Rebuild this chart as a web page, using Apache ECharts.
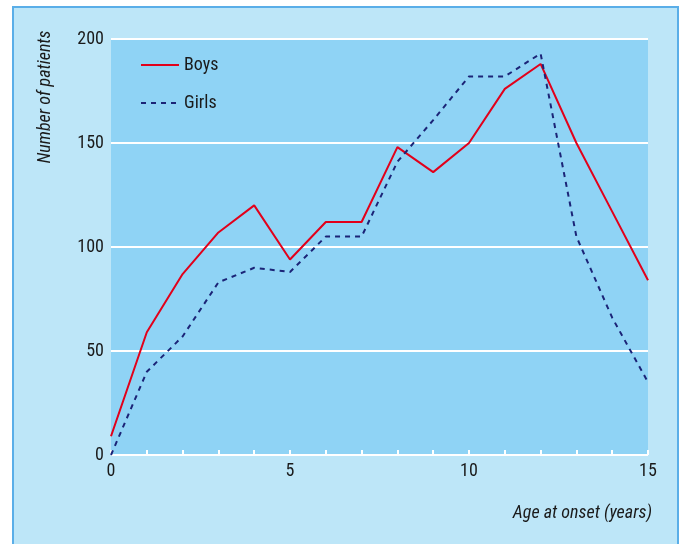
<!DOCTYPE html>
<html>
<head>
<meta charset="utf-8">
<script src="https://cdn.jsdelivr.net/npm/echarts@6/dist/echarts.min.js"></script>
<style>
  html, body { margin: 0; padding: 0; background: #fff; }
  #chart { width: 681px; height: 544px; }
</style>
</head>
<body>
<div id="chart"></div>
<script>
var ages = [0, 1, 2, 3, 4, 5, 6, 7, 8, 9, 10, 11, 12, 13, 14, 15];
var boys = [9, 59, 87, 107, 120, 94, 112, 112, 148, 136, 150, 176, 188, 150, 117, 84];
var girls = [0, 40, 57, 83, 90, 88, 105, 105, 141, 161, 182, 182, 193, 105, 66, 35];
var xTicks = [0, 5, 10, 15];
var yTicks = [0, 50, 100, 150, 200];

var font = '"Liberation Sans Narrow", "Roboto Condensed", Roboto, sans-serif';
var colors = ['#e2001a', '#1b2477'];

var myChart = echarts.init(document.getElementById('chart'));

function pairs(vals) {
    return ages.map(function (a, i) { return [a, vals[i]]; });
}

var option = {
    backgroundColor: '#fff',
    animation: false,
    color: colors,
    graphic: [
        {
            type: 'rect', z: -10,
            shape: { x: 13, y: 7, width: 665, height: 545 },
            style: { fill: '#bde6f8', stroke: '#5aaee8', lineWidth: 2 }
        },
        {
            type: 'text', x: 45, y: 97, rotation: Math.PI / 2,
            style: {
                text: 'Number of patients', fill: '#1a1a1a',
                font: 'italic 18px ' + font, align: 'center', verticalAlign: 'middle'
            }
        },
        {
            type: 'text', x: 652, y: 513,
            style: {
                text: 'Age at onset (years)', fill: '#1a1a1a',
                font: 'italic 18px ' + font, align: 'right', verticalAlign: 'middle'
            }
        }
    ],
    legend: {
        orient: 'vertical',
        left: 135,
        top: 51,
        itemWidth: 38,
        itemHeight: 14,
        itemGap: 20,
        itemStyle: { opacity: 0 },
        textStyle: { fontSize: 18, color: '#1a1a1a', fontFamily: font },
        data: ['Boys', 'Girls']
    },
    grid: {
        left: 111, right: 33, top: 39, bottom: 89,
        show: true, backgroundColor: '#8fd3f5', borderWidth: 0
    },
    xAxis: {
        type: 'value', min: 0, max: 15, interval: 1,
        // line must be on for ticks to draw; keep it transparent
        axisLine: { show: true, lineStyle: { color: 'rgba(0,0,0,0)' } },
        axisTick: { show: true, inside: true, length: 5, lineStyle: { color: '#ffffff', width: 2 } },
        splitLine: { show: false },
        axisLabel: { fontSize: 18, color: '#1a1a1a', fontFamily: font, margin: 7,
            formatter: function (v) { return xTicks.indexOf(v) >= 0 ? String(v) : ''; } }
    },
    yAxis: {
        type: 'value', min: 0, max: 200, interval: 50,
        axisLine: { show: false },
        axisTick: { show: false },
        splitLine: { show: true, lineStyle: { color: '#fff', width: 2 } },
        axisLabel: { fontSize: 18, color: '#1a1a1a', fontFamily: font, margin: 7,
            formatter: function (v) { return yTicks.indexOf(v) >= 0 ? String(v) : ''; } }
    },
    series: [
        {
            name: 'Boys', type: 'line', symbol: 'none',
            lineStyle: { width: 2, color: colors[0] },
            data: pairs(boys)
        },
        {
            name: 'Girls', type: 'line', symbol: 'none',
            lineStyle: { width: 2, color: colors[1], type: [5, 5] },
            data: pairs(girls)
        }
    ]
};
myChart.setOption(option);
</script>
</body>
</html>
